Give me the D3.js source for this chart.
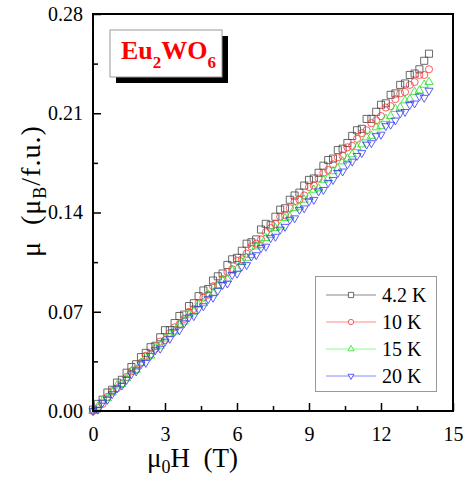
<!DOCTYPE html>
<html>
<head>
<meta charset="utf-8">
<script src="https://cdn.jsdelivr.net/npm/d3@7"></script>
<style>
  body { margin: 0; background: #fff; }
  svg text { font-family: "Liberation Serif", "Times New Roman", serif; }
</style>
</head>
<body>
<svg id="chart"></svg>
<script>
// field values (T)
let field = [0.0,0.2,0.4,0.6,0.8,1.0,1.2,1.4,1.6,1.8,2.0,2.2,2.4,2.6,2.8,3.0,3.2,3.4,3.6,3.8,
  4.0,4.2,4.4,4.6,4.8,5.0,5.2,5.4,5.6,5.8,6.0,6.2,6.4,6.6,6.8,7.0,7.2,7.4,7.6,7.8,
  8.0,8.2,8.4,8.6,8.8,9.0,9.2,9.4,9.6,9.8,10.0,10.2,10.4,10.6,10.8,11.0,11.2,11.4,11.6,11.8,
  12.0,12.2,12.4,12.6,12.8,13.0,13.2,13.4,13.6,13.8,14.0]

// moment (muB / f.u.) for each temperature
let mu_4K = [0.001,0.005,0.008,0.013,0.015,0.020,0.022,0.027,0.031,0.033,
  0.038,0.041,0.045,0.046,0.052,0.057,0.057,0.062,0.067,0.068,
  0.074,0.076,0.081,0.085,0.086,0.092,0.095,0.097,0.103,0.107,
  0.108,0.113,0.118,0.119,0.121,0.128,0.132,0.131,0.137,0.142,
  0.143,0.149,0.152,0.154,0.159,0.163,0.164,0.168,0.173,0.177,
  0.178,0.184,0.185,0.189,0.194,0.198,0.199,0.206,0.206,0.211,
  0.216,0.217,0.223,0.224,0.230,0.231,0.237,0.238,0.241,0.247,0.252]
let mu_10K = [0.000,0.002,0.005,0.010,0.014,0.016,0.019,0.024,0.028,0.029,
  0.034,0.039,0.040,0.044,0.049,0.050,0.055,0.059,0.061,0.065,
  0.070,0.072,0.076,0.080,0.082,0.088,0.089,0.093,0.098,0.100,
  0.106,0.107,0.111,0.116,0.118,0.121,0.126,0.129,0.132,0.137,
  0.138,0.143,0.148,0.149,0.152,0.158,0.159,0.164,0.168,0.170,
  0.174,0.179,0.180,0.186,0.187,0.192,0.196,0.198,0.203,0.205,
  0.208,0.214,0.215,0.220,0.224,0.225,0.230,0.232,0.237,0.237,0.241]
let mu_15K = [0.000,0.003,0.007,0.009,0.013,0.018,0.019,0.023,0.028,0.029,
  0.034,0.038,0.039,0.045,0.046,0.051,0.054,0.056,0.061,0.063,
  0.068,0.070,0.075,0.076,0.082,0.083,0.088,0.092,0.093,0.099,
  0.100,0.105,0.108,0.110,0.116,0.117,0.122,0.124,0.129,0.130,
  0.136,0.137,0.143,0.144,0.149,0.151,0.156,0.157,0.163,0.164,
  0.169,0.171,0.176,0.178,0.181,0.186,0.188,0.193,0.194,0.200,
  0.201,0.206,0.208,0.213,0.214,0.219,0.220,0.225,0.226,0.230,0.232]
let mu_20K = [0.000,0.001,0.006,0.008,0.012,0.016,0.018,0.022,0.026,0.028,
  0.033,0.034,0.039,0.043,0.044,0.049,0.051,0.056,0.057,0.062,
  0.066,0.067,0.072,0.074,0.079,0.080,0.085,0.089,0.090,0.096,
  0.097,0.102,0.103,0.109,0.110,0.115,0.116,0.122,0.123,0.128,
  0.130,0.135,0.136,0.142,0.143,0.148,0.149,0.155,0.156,0.161,
  0.163,0.168,0.169,0.174,0.176,0.180,0.182,0.188,0.189,0.194,
  0.195,0.201,0.202,0.205,0.210,0.211,0.216,0.217,0.222,0.221,0.226]

let series_names = ["4.2 K", "10 K", "15 K", "20 K"]
let x_ticks = [0, 3, 6, 9, 12, 15]
let y_ticks = [0.00, 0.07, 0.14, 0.21, 0.28]

let series = [
  {name: series_names[0], values: mu_4K, color: "#444", line: "#888", symbol: d3.symbolSquare, size: 50, rot: 0},
  {name: series_names[1], values: mu_10K, color: "#ff3333", line: "#ff8888", symbol: d3.symbolCircle, size: 40, rot: 0},
  {name: series_names[2], values: mu_15K, color: "#22dd22", line: "#88ff88", symbol: d3.symbolTriangle, size: 30, rot: 0},
  {name: series_names[3], values: mu_20K, color: "#3333ff", line: "#8888ff", symbol: d3.symbolTriangle, size: 28, rot: 180}
]

let width = 465, height = 477
let margins = {top: 14, bottom: 66, left: 93, right: 12}
let svgWidth = width - margins.left - margins.right
let svgHeight = height - margins.top - margins.bottom

let svg = d3.select('#chart').attr('width', width).attr('height', height)

let x = d3.scaleLinear().domain([0, 15]).range([0, svgWidth])
let y = d3.scaleLinear().domain([0, 0.28]).range([svgHeight, 0])

let chart = svg.append('g').attr('transform', `translate(${margins.left},${margins.top})`)

// DATA POINTS
series.forEach(function(s){
  chart.append('g')
    .selectAll('path')
    .data(s.values)
    .enter()
    .append('path')
    .attr('d', d3.symbol().type(s.symbol).size(s.size))
    .attr('transform', (d, i) => `translate(${x(field[i])},${y(d)}) rotate(${s.rot})`)
    .attr('fill', 'none')
    .attr('stroke', s.color)
    .attr('stroke-width', 0.8)
})

// FRAME
chart.append('rect')
  .attr('width', svgWidth).attr('height', svgHeight)
  .attr('fill', 'none').attr('stroke', '#000').attr('stroke-width', 2)

// X AXIS (inward ticks)
let xMinor = d3.range(1.5, 15, 3)
chart.append('g')
  .attr('transform', `translate(0,${svgHeight})`)
  .call(d3.axisBottom(x).tickValues(xMinor).tickSize(-5).tickFormat(''))
  .call(g => g.select('.domain').remove())
  .selectAll('line').attr('stroke-width', 1.5)
let xAxis = chart.append('g')
  .attr('transform', `translate(0,${svgHeight})`)
  .call(d3.axisBottom(x).tickValues(x_ticks).tickSize(-8).tickPadding(16).tickFormat(d3.format('d')))
xAxis.select('.domain').remove()
xAxis.selectAll('line').attr('stroke-width', 1.5)
xAxis.selectAll('text').attr('font-size', 20).attr('fill', '#000')
  .style('font-family', '"Liberation Serif", serif')

// Y AXIS
let yMinor = [0.035, 0.105, 0.175, 0.245]
chart.append('g')
  .call(d3.axisLeft(y).tickValues(yMinor).tickSize(-5).tickFormat(''))
  .call(g => g.select('.domain').remove())
  .selectAll('line').attr('stroke-width', 1.5)
let yAxis = chart.append('g')
  .call(d3.axisLeft(y).tickValues(y_ticks).tickSize(-8).tickPadding(10).tickFormat(d3.format('.2f')))
yAxis.select('.domain').remove()
yAxis.selectAll('line').attr('stroke-width', 1.5)
yAxis.selectAll('text').attr('font-size', 20).attr('fill', '#000')
  .style('font-family', '"Liberation Serif", serif')

// AXIS TITLES
let xt = svg.append('text')
  .attr('x', 147).attr('y', 467)
  .attr('font-size', 27).attr('fill', '#000')
  .style('white-space', 'pre')
xt.append('tspan').text('μ')
xt.append('tspan').attr('font-size', 18).attr('dy', 6).text('0')
xt.append('tspan').attr('dy', -6).text('H  (T)')

let yt = svg.append('text')
  .attr('transform', 'translate(40,257) rotate(-90)')
  .attr('font-size', 28).attr('fill', '#000')
  .style('white-space', 'pre').style('letter-spacing', '1px')
yt.append('tspan').text('μ  (μ')
yt.append('tspan').attr('font-size', 18).attr('dy', 6).text('B')
yt.append('tspan').attr('dy', -6).text('/f.u.)')

// SAMPLE LABEL BOX
let lb = svg.append('g')
lb.append('rect').attr('x', 116).attr('y', 36).attr('width', 112).attr('height', 47).attr('fill', '#000')
lb.append('rect').attr('x', 110).attr('y', 30).attr('width', 112).attr('height', 47)
  .attr('fill', '#fff').attr('stroke', '#999').attr('stroke-width', 1)
let lt = lb.append('text').attr('x', 121).attr('y', 59)
  .attr('font-size', 26).attr('font-weight', 'bold').attr('fill', '#ff0000')
lt.append('tspan').text('Eu')
lt.append('tspan').attr('font-size', 17).attr('dy', 9).text('2')
lt.append('tspan').attr('dy', -9).text('WO')
lt.append('tspan').attr('font-size', 17).attr('dy', 9).text('6')

// LEGEND
let lg = svg.append('g')
lg.append('rect').attr('x', 315.5).attr('y', 276.5).attr('width', 121).attr('height', 115)
  .attr('fill', '#fff').attr('stroke', '#999').attr('stroke-width', 1)
let legendY = d3.scalePoint().domain(series_names).range([295, 376])
series.forEach(function(s){
  let ly = legendY(s.name)
  lg.append('line').attr('x1', 326).attr('x2', 376).attr('y1', ly).attr('y2', ly)
    .attr('stroke', s.line).attr('stroke-width', 1)
  lg.append('path')
    .attr('d', d3.symbol().type(s.symbol).size(s.size * 0.55))
    .attr('transform', `translate(351,${ly}) rotate(${s.rot})`)
    .attr('fill', '#fff').attr('stroke', s.color).attr('stroke-width', 0.8)
  lg.append('text').attr('x', 382).attr('y', ly + 7)
    .attr('font-size', 20).attr('fill', '#000').text(s.name)
})
</script>
</body>
</html>
